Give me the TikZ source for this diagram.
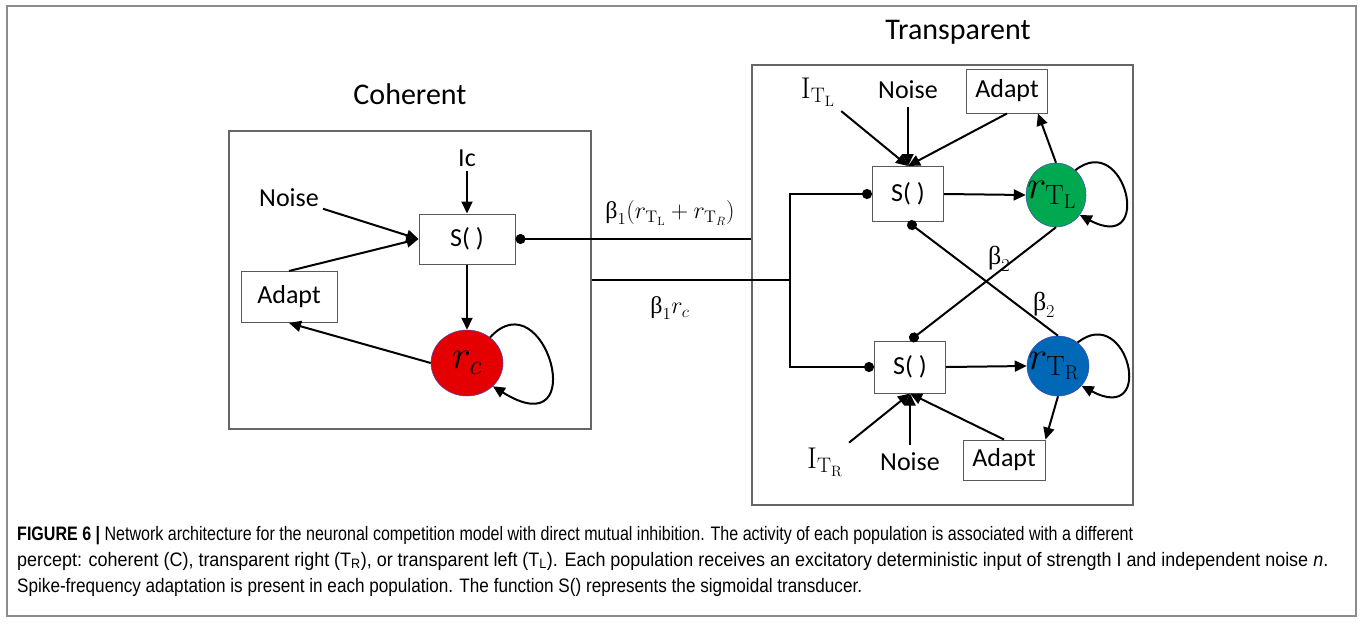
\RequirePackage{fix-cm}
\documentclass[tikz,border=0pt]{standalone}
\usepackage[no-math]{fontspec}
\usepackage{amsmath}
\usepackage{graphicx}
\setmainfont{Carlito}
\newfontfamily\capfont[FakeStretch=0.92]{Liberation Sans}
\newfontfamily\grkfont{Liberation Serif}
\usetikzlibrary{arrows.meta}
\usetikzlibrary{shapes.geometric}
\definecolor{popred}{RGB}{228,0,0}
\definecolor{popgreen}{RGB}{0,168,80}
\definecolor{popblue}{RGB}{0,104,182}
\tikzset{arr/.style = {line width=2pt, -{Triangle[length=12pt,width=11pt]}}}
\tikzset{dotend/.style = {line width=2pt, -{Circle[length=10pt]}}}
\tikzset{dotstart/.style = {line width=2pt, {Circle[length=10pt]}-}}
\tikzset{wire/.style = {line width=2pt}}
\tikzset{sbox/.style = {draw=black!65, line width=1pt, inner sep=0, font=\fontsize{26}{28}\selectfont}}
\tikzset{frame/.style = {draw=black!60, line width=1.3pt, inner sep=0}}
\tikzset{pop/.style = {ellipse, draw=blue!45!gray, line width=0.5pt, inner sep=0, font=\fontsize{40}{42}\selectfont}}
\tikzset{lab/.style = {inner sep=4pt, font=\fontsize{26}{28}\selectfont}}
\tikzset{mlab/.style = {inner sep=6pt, font=\fontsize{30}{32}\selectfont}}
\tikzset{title/.style = {font=\fontsize{30}{32}\selectfont}}
\tikzset{captext/.style = {anchor=base west, inner sep=0, font=\capfont\fontsize{19.5}{22}\selectfont}}
\newcommand{\bt}{\mbox{\grkfont β}}

\begin{document}
\begin{tikzpicture}[x=1pt,y=-1pt]
        \useasboundingbox (0,0) rectangle (1363,625);
        \draw [black!45, line width=1.6pt] (7,6) rectangle (1356,616);
        % coherent population
        \node [title] (cohtitle) at (410,94) {Coherent};
        \node [frame, minimum width=362, minimum height=298] (cohbox) at (410,280) {};
        \node [sbox, minimum width=96, minimum height=50] (sc) at (467,239) {S( )};
        \node [lab] (ic) at (467,158) {Ic};
        \node [lab] (cnoise) at (289,198) {Noise};
        \node [sbox, minimum width=96, minimum height=51] (cadapt) at (289,297) {Adapt};
        \node [pop, fill=popred, minimum width=72, minimum height=66] (rc) at (467,363) {$r_c$};
        \draw [arr] (ic) -- (sc.north);
        \draw [arr] (cnoise) -- (sc.west);
        \draw [arr] (cadapt.north) -- (sc.west);
        \draw [arr] (sc.south) -- (rc.north);
        \draw [arr] (rc.west) -- (cadapt.south);
        \draw [arr] (rc.48) .. controls +(55,-60) and +(100,62) .. (rc.-42);
        % transparent populations
        \node [title] (trtitle) at (958,32) {Transparent};
        \node [frame, minimum width=381, minimum height=440] (trbox) at (942.5,285) {};
        \node [sbox, minimum width=71, minimum height=55] (stl) at (908,194) {S( )};
        \node [sbox, minimum width=71, minimum height=52] (str) at (910,367) {S( )};
        \node [pop, fill=popgreen, minimum width=60, minimum height=64] (rtl) at (1056,195) {\hspace*{-8pt}$r_{\mathrm{T}_\mathrm{L}}$};
        \node [pop, fill=popblue, minimum width=62, minimum height=60] (rtr) at (1058,366) {\hspace*{-8pt}$r_{\mathrm{T}_\mathrm{R}}$};
        \node [sbox, minimum width=81, minimum height=44] (tadapt1) at (1007,91) {Adapt};
        \node [sbox, minimum width=82, minimum height=40] (tadapt2) at (1004,460) {Adapt};
        \node [mlab] (itl) at (818,92) {$\mathrm{I}_{\mathrm{T}_\mathrm{L}}$};
        \node [lab, inner sep=8pt] (tnoise1) at (908,90) {Noise};
        \node [mlab] (itr) at (825,462) {$\mathrm{I}_{\mathrm{T}_\mathrm{R}}$};
        \node [lab, inner sep=8pt] (tnoise2) at (910,462) {Noise};
        \draw [arr] (itl) -- (stl.north);
        \draw [arr] (tnoise1) -- (stl.north);
        \draw [arr] (tadapt1.south) -- (stl.north);
        \draw [arr] (stl.east) -- (rtl.west);
        \draw [arr] (rtl.north) -- (tadapt1.-36);
        \draw [arr] (rtl.52) .. controls +(50,-40) and +(75,40) .. (rtl.-40);
        \draw [arr] (itr) -- (str.south);
        \draw [arr] (tnoise2) -- (str.south);
        \draw [arr] (tadapt2.north) -- (str.south);
        \draw [arr] (str.east) -- (rtr.west);
        \draw [arr] (rtr.south) -- (tadapt2.north east);
        \draw [arr] (rtr.50) .. controls +(50,-40) and +(75,40) .. (rtr.-40);
        % mutual inhibition
        \draw [dotend] (rtl.south) -- (str.north) node [pos=0.28, lab, anchor=east] (b2a) {$\bt_2$};
        \draw [dotstart] (stl.south) -- (rtr.north) node [pos=0.8, lab, anchor=west, yshift=8pt] (b2b) {$\bt_2$};
        % coupling between the two
        \coordinate (split) at (790,280);
        \draw [dotstart] (sc.east) -- (sc.east -| trbox.west);
        \draw [wire] (cohbox.east) -- (split);
        \draw [dotend] (split) |- (stl.west);
        \draw [dotend] (split) |- (str.west);
        \node [lab, font=\fontsize{24}{26}\selectfont] (b1a) at (670,213) {$\bt_1(r_{\mathrm{T}_\mathrm{L}}+r_{\mathrm{T}_R})$};
        \node [lab, font=\fontsize{24}{26}\selectfont] (b1b) at (670,308) {$\bt_1 r_c$};
        % caption
        \node [captext] (cap1) at (17,540) {\resizebox{1116pt}{\height}{\textbf{FIGURE 6 |} Network architecture for the neuronal competition model with direct mutual inhibition. The activity of each population is associated with a different}};
        \node [captext] (cap2) at (17,566) {\resizebox{1311pt}{\height}{percept: coherent (C), transparent right (T\textsubscript{R}), or transparent left (T\textsubscript{L}). Each population receives an excitatory deterministic input of strength I and independent noise \textit{n}.}};
        \node [captext] (cap3) at (17,592) {\resizebox{845pt}{\height}{Spike-frequency adaptation is present in each population. The function S() represents the sigmoidal transducer.}};
\end{tikzpicture}
\end{document}
